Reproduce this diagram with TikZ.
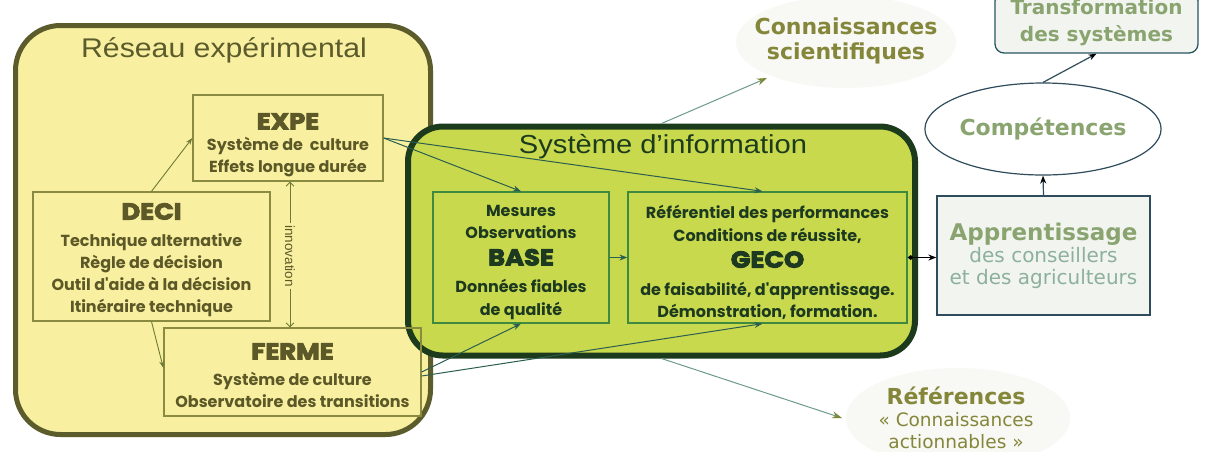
\documentclass[tikz,border=0pt]{standalone}
\usepackage{fontspec}
\usetikzlibrary{arrows.meta,shapes.geometric,calc}
\setmainfont{Liberation Sans}
\newfontfamily\bodyf{Poppins}
\newfontfamily\heavyf{Poppins}[BoldFeatures={FakeBold=4,FakeStretch=1.12}]
\newfontfamily\outf{DejaVu Sans}
\newfontfamily\titf{Liberation Sans}[FakeStretch=1.12]
\definecolor{resfill}{HTML}{F8F0A0}
\definecolor{resdraw}{HTML}{5B5B2B}
\definecolor{oltext}{HTML}{5C5828}
\definecolor{olbox}{HTML}{8A8A40}
\definecolor{olarrc}{HTML}{6F7A38}
\definecolor{sifill}{HTML}{C8D94E}
\definecolor{sidraw}{HTML}{1C3A1C}
\definecolor{sitext}{HTML}{1D3A20}
\definecolor{siboxc}{HTML}{3F8A3F}
\definecolor{tealarr}{HTML}{2C5E50}
\definecolor{outarrc}{HTML}{6E9A8A}
\definecolor{tipol}{HTML}{7A8A3A}
\definecolor{outol}{HTML}{84863A}
\definecolor{outgr}{HTML}{8AA470}
\definecolor{outteal}{HTML}{8DB09C}
\definecolor{slate}{HTML}{2F4C5C}
\definecolor{lightbox}{HTML}{F2F4F0}
\definecolor{glow}{HTML}{F8F8F4}
\newcommand\boxtitle[1]{{\heavyf\bfseries\fontsize{23}{23}\selectfont #1}}
\begin{document}
\begin{tikzpicture}[x=1pt,y=-1pt,
  resbox/.style={draw=resdraw, line width=5pt, fill=resfill, rounded corners=45pt, inner sep=0pt},
  inbox/.style={draw=olbox, line width=1.3pt, inner sep=0pt},
  intext/.style={inner sep=0pt, align=center, text=oltext,
    font=\bodyf\bfseries\fontsize{16}{22}\selectfont},
  sibox/.style={draw=sidraw, line width=6pt, fill=sifill, rounded corners=35pt, inner sep=0pt},
  gbox/.style={draw=siboxc, line width=1.3pt, inner sep=0pt},
  gtext/.style={inner sep=0pt, align=center, text=sitext,
    font=\bodyf\bfseries\fontsize{16}{22.5}\selectfont},
  olarr/.style={draw=olarrc, line width=0.9pt, -{Stealth[length=7pt,width=5pt]}},
  tarr/.style={draw=tealarr, line width=1pt, -{Stealth[length=8pt,width=6pt]}},
  oarr/.style={draw=outarrc, line width=1pt, -{Stealth[length=10pt,width=7pt,color=tipol]}},
  barr/.style={draw=slate, line width=1.2pt, -{Stealth[length=8pt,width=6pt,color=black]}},
  outbold/.style={align=center, font=\outf\bfseries\fontsize{22}{25}\selectfont}
]
\useasboundingbox (0,0) rectangle (1229,451);
\fill[white] (0,0) rectangle (1229,451);
% soft glows
\fill[glow] (846,42) ellipse (110 and 46);
\fill[glow] (958,418) ellipse (112 and 50);

% Reseau experimental
\node[resbox, minimum width=415pt, minimum height=409pt] (res) at (223,230) {};
\node[text=resdraw, font=\titf\fontsize{27}{27}\selectfont] (restitle) at (224,50) {Réseau expérimental};

\node[inbox, minimum width=190pt, minimum height=86pt] (expe) at (288,138) {};
\node[intext] (expetxt) at (288,145)
  {\boxtitle{EXPE}\\[-1pt]Système de~ culture\\Effets longue durée};
\node[inbox, minimum width=237pt, minimum height=129pt] (deci) at (151.5,256.5) {};
\node[intext] (decitxt) at (151.5,260)
  {\boxtitle{DECI}\\[5pt]Technique alternative\\Règle de décision\\Outil d'aide à la décision\\Itinéraire technique};

% Systeme d'information
\node[sibox, minimum width=507pt, minimum height=229pt] (si) at (661.5,241) {};
\node[text=sidraw, font=\titf\fontsize{26}{26}\selectfont] (sititle) at (663,147) {Système d’information};

\node[inbox, minimum width=257pt, minimum height=88pt] (ferme) at (292.5,372) {};
\node[intext] (fermetxt) at (292.5,375.5)
  {\boxtitle{FERME}\\[4pt]Système de culture\\Observatoire des transitions};

% innovation
\draw[draw=olarrc, line width=0.8pt, {Straight Barb[length=4pt,width=8pt]}-{Straight Barb[length=4pt,width=8pt]}]
  ($(expe.south)+(2,0)$) -- ($(expe.south |- ferme.north)+(2,0)$);
\node[fill=resfill, rotate=-90, inner sep=2pt, text=oltext, font=\fontsize{13.5}{13.5}\selectfont] (inno) at (290,256) {innovation};

\draw[olarr] (deci.north) -- (expe.west);
\draw[olarr] (deci.south) -- ($(ferme.west)+(0,-4)$);

\node[gbox, minimum width=176pt, minimum height=131pt] (base) at (521,257.5) {};
\node[gtext] (basetxt) at (521,262.5)
  {Mesures\\Observations\\[4pt]\boxtitle{BASE}\\[5pt]Données fiables\\de qualité};
\node[gbox, minimum width=279pt, minimum height=131pt] (geco) at (767.5,257.5) {};
\node[gtext] (gecotxt) at (767.5,262.5)
  {Référentiel des performances\\Conditions de réussite,\\[4pt]\boxtitle{GECO}\\[5pt]de faisabilité, d'apprentissage.\\Démonstration, formation.};

\draw[tarr] (expe.east) -- (base.north);
\draw[tarr] (expe.east) -- ($(geco.north)+(-5,0)$);
\draw[tarr] (ferme.east) -- (base.south);
\draw[tarr] ($(ferme.east)+(0,4)$) -- ($(geco.south)+(-5,0)$);
\draw[tarr] (base.east) -- (geco.west);

% outputs
\node[outbold, text=outol] (conn) at (846,41) {Connaissances\\scientifiques};
\coordinate (connarr) at (767,78);
\draw[oarr] (si.north) -- (connarr);

\node[align=center, text=outol, font=\outf\fontsize{18.5}{22}\selectfont] (ref) at (956,418)
  {{\bfseries\fontsize{22}{22}\selectfont Références}\\« Connaissances\\actionnables »};
\coordinate (refarr) at (842,418);
\draw[oarr] (si.south) -- (refarr);

\node[draw=slate, line width=1.3pt, fill=lightbox, minimum width=213pt, minimum height=119pt, inner sep=0pt,
  align=center, text=outteal, font=\outf\fontsize{20}{22}\selectfont] (appr) at (1043.5,255.5)
  {{\color{outgr}\bfseries\fontsize{23}{23}\selectfont Apprentissage}\\des conseillers\\ et des agriculteurs};
\node[ellipse, draw=slate, line width=1.2pt, fill=white, minimum width=193pt, minimum height=92pt, inner sep=0pt,
  text=outgr, font=\outf\bfseries\fontsize{22}{22}\selectfont] (comp) at (1043,129) {Compétences};
\node[draw=slate!80!teal, line width=1.3pt, fill=lightbox, rounded corners=9pt, minimum width=203pt, minimum height=61pt,
  inner sep=0pt, align=center, text=outgr, font=\outf\bfseries\fontsize{20}{27}\selectfont] (transf) at (1096.5,22.5)
  {Transformation\\des systèmes};

\draw[draw=black, line width=1.2pt, {Diamond[length=6pt,width=5pt]}-{Stealth[length=8pt,width=6pt]}]
  (geco.east) -- (geco.east -| appr.west);
\draw[barr] (appr.north) -- (comp.south);
\draw[barr] (comp.north) -- (transf.south);
\end{tikzpicture}
\end{document}
